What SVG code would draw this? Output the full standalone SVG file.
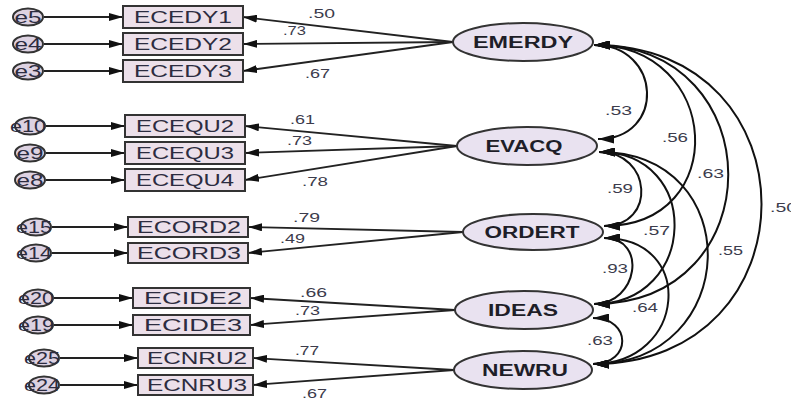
<svg xmlns="http://www.w3.org/2000/svg" width="791" height="401" viewBox="0 0 791 401">
<style>
.bg{fill:#ffffff}
.box{fill:#ece0ea;stroke:#333;stroke-width:2}
.lat{fill:#e9e2f0;stroke:#333;stroke-width:2}
.err{fill:#ddd2e2;stroke:#333;stroke-width:2}
.bt{font-family:"Liberation Sans",Arial,sans-serif;font-size:17px;fill:#2c2c40;text-anchor:middle}
.lt{font-family:"Liberation Sans",Arial,sans-serif;font-size:16px;font-weight:bold;fill:#1e1e28;text-anchor:middle}
.et{font-family:"Liberation Sans",Arial,sans-serif;font-size:17px;fill:#2c2c40;text-anchor:middle}
.nt{font-family:"Liberation Sans",Arial,sans-serif;font-size:13px;fill:#3c3c4c}
.ln{fill:none;stroke:#222;stroke-width:1.8;marker-end:url(#ah)}
.cv{fill:none;stroke:#111;stroke-width:2;marker-start:url(#ah2);marker-end:url(#ah2)}
</style>
<defs>
<marker id="ah" viewBox="0 0 14 8" refX="14" refY="4" markerWidth="14" markerHeight="8" markerUnits="userSpaceOnUse" orient="auto-start-reverse"><path d="M0,0 L14,4 L0,8 z" fill="#111"/></marker>
<marker id="ah2" viewBox="0 0 16 9" refX="16" refY="4.5" markerWidth="16" markerHeight="9" markerUnits="userSpaceOnUse" orient="auto-start-reverse"><path d="M0,0 L16,4.5 L0,9 z" fill="#111"/></marker>
</defs>
<rect class="bg" x="0" y="0" width="791" height="401"/>

<g id="connectors">
<!-- error to indicator -->
<line class="ln" x1="44" y1="17" x2="123" y2="17"/>
<line class="ln" x1="44" y1="44" x2="123" y2="44"/>
<line class="ln" x1="44" y1="71" x2="123" y2="71"/>
<line class="ln" x1="46" y1="126" x2="125" y2="126"/>
<line class="ln" x1="46" y1="153" x2="125" y2="153"/>
<line class="ln" x1="46" y1="180" x2="125" y2="180"/>
<line class="ln" x1="52" y1="227" x2="128" y2="227"/>
<line class="ln" x1="52" y1="253" x2="128" y2="253"/>
<line class="ln" x1="54" y1="298" x2="133" y2="298"/>
<line class="ln" x1="54" y1="325" x2="133" y2="325"/>
<line class="ln" x1="60" y1="358" x2="138" y2="358"/>
<line class="ln" x1="60" y1="385" x2="138" y2="385"/>
<!-- latent to indicator -->
<line class="ln" x1="453" y1="42" x2="243" y2="17"/>
<line class="ln" x1="453" y1="42" x2="243" y2="44"/>
<line class="ln" x1="453" y1="42" x2="243" y2="71"/>
<line class="ln" x1="457" y1="146" x2="245" y2="126"/>
<line class="ln" x1="457" y1="146" x2="245" y2="153"/>
<line class="ln" x1="457" y1="146" x2="245" y2="180"/>
<line class="ln" x1="463" y1="232" x2="248" y2="227"/>
<line class="ln" x1="463" y1="232" x2="248" y2="253"/>
<line class="ln" x1="455" y1="310" x2="250" y2="298"/>
<line class="ln" x1="455" y1="310" x2="250" y2="325"/>
<line class="ln" x1="454" y1="370" x2="253" y2="358"/>
<line class="ln" x1="454" y1="370" x2="253" y2="385"/>
<!-- covariances -->
<path class="cv" d="M594,45 C662,45 666,139 598,139"/>
<path class="cv" d="M594,45 C722,45 732,226 604,226"/>
<path class="cv" d="M594,45 C773,45 773,304 594,304"/>
<path class="cv" d="M594,45 C818,45 817,364 593,364"/>
<path class="cv" d="M599,152 C652,152 657,226 604,226"/>
<path class="cv" d="M599,152 C703,152 698,304 594,304"/>
<path class="cv" d="M599,152 C748,152 742,364 593,364"/>
<path class="cv" d="M604,238 C648,238 638,304 594,304"/>
<path class="cv" d="M604,238 C697,238 686,364 593,364"/>
<path class="cv" d="M593,318 C632,318 632,364 593,364"/>
</g>

<g id="loadings">
<text class="nt" x="308" y="18" textLength="27" lengthAdjust="spacingAndGlyphs">.50</text>
<text class="nt" x="283" y="35" textLength="23" lengthAdjust="spacingAndGlyphs">.73</text>
<text class="nt" x="305" y="78" textLength="25" lengthAdjust="spacingAndGlyphs">.67</text>
<text class="nt" x="290" y="124" textLength="25" lengthAdjust="spacingAndGlyphs">.61</text>
<text class="nt" x="287" y="145" textLength="25" lengthAdjust="spacingAndGlyphs">.73</text>
<text class="nt" x="302" y="186" textLength="26" lengthAdjust="spacingAndGlyphs">.78</text>
<text class="nt" x="293" y="222" textLength="27" lengthAdjust="spacingAndGlyphs">.79</text>
<text class="nt" x="280" y="243" textLength="25" lengthAdjust="spacingAndGlyphs">.49</text>
<text class="nt" x="300" y="297" textLength="27" lengthAdjust="spacingAndGlyphs">.66</text>
<text class="nt" x="295" y="315" textLength="25" lengthAdjust="spacingAndGlyphs">.73</text>
<text class="nt" x="295" y="355" textLength="24" lengthAdjust="spacingAndGlyphs">.77</text>
<text class="nt" x="302" y="398" textLength="25" lengthAdjust="spacingAndGlyphs">.67</text>
<text class="nt" x="605" y="115" textLength="27" lengthAdjust="spacingAndGlyphs">.53</text>
<text class="nt" x="662" y="142" textLength="26" lengthAdjust="spacingAndGlyphs">.56</text>
<text class="nt" x="697" y="178" textLength="27" lengthAdjust="spacingAndGlyphs">.63</text>
<text class="nt" x="770" y="212" textLength="27" lengthAdjust="spacingAndGlyphs">.50</text>
<text class="nt" x="607" y="193" textLength="26" lengthAdjust="spacingAndGlyphs">.59</text>
<text class="nt" x="643" y="235" textLength="27" lengthAdjust="spacingAndGlyphs">.57</text>
<text class="nt" x="718" y="255" textLength="25" lengthAdjust="spacingAndGlyphs">.55</text>
<text class="nt" x="602" y="273" textLength="26" lengthAdjust="spacingAndGlyphs">.93</text>
<text class="nt" x="632" y="312" textLength="26" lengthAdjust="spacingAndGlyphs">.64</text>
<text class="nt" x="587" y="345" textLength="26" lengthAdjust="spacingAndGlyphs">.63</text>
</g>

<g id="e5"><ellipse class="err" cx="28" cy="17" rx="15" ry="8.5"/><text class="et" x="28" y="23" textLength="27" lengthAdjust="spacingAndGlyphs">e5</text></g>
<g id="e4"><ellipse class="err" cx="28" cy="44" rx="15" ry="8.5"/><text class="et" x="28" y="50" textLength="27" lengthAdjust="spacingAndGlyphs">e4</text></g>
<g id="e3"><ellipse class="err" cx="28" cy="71" rx="15" ry="8.5"/><text class="et" x="28" y="77" textLength="27" lengthAdjust="spacingAndGlyphs">e3</text></g>
<g id="e10"><ellipse class="err" cx="30" cy="126" rx="15" ry="8.5"/><text class="et" x="28" y="132" textLength="36" lengthAdjust="spacingAndGlyphs">e10</text></g>
<g id="e9"><ellipse class="err" cx="30" cy="153" rx="15" ry="8.5"/><text class="et" x="30" y="159" textLength="27" lengthAdjust="spacingAndGlyphs">e9</text></g>
<g id="e8"><ellipse class="err" cx="30" cy="180" rx="15" ry="8.5"/><text class="et" x="30" y="186" textLength="27" lengthAdjust="spacingAndGlyphs">e8</text></g>
<g id="e15"><ellipse class="err" cx="36" cy="227" rx="15" ry="8.5"/><text class="et" x="34" y="233" textLength="36" lengthAdjust="spacingAndGlyphs">e15</text></g>
<g id="e14"><ellipse class="err" cx="36" cy="253" rx="15" ry="8.5"/><text class="et" x="34" y="259" textLength="36" lengthAdjust="spacingAndGlyphs">e14</text></g>
<g id="e20"><ellipse class="err" cx="38" cy="298" rx="15" ry="8.5"/><text class="et" x="36" y="304" textLength="36" lengthAdjust="spacingAndGlyphs">e20</text></g>
<g id="e19"><ellipse class="err" cx="38" cy="325" rx="15" ry="8.5"/><text class="et" x="36" y="331" textLength="36" lengthAdjust="spacingAndGlyphs">e19</text></g>
<g id="e25"><ellipse class="err" cx="44" cy="358" rx="15" ry="8.5"/><text class="et" x="42" y="364" textLength="36" lengthAdjust="spacingAndGlyphs">e25</text></g>
<g id="e24"><ellipse class="err" cx="44" cy="385" rx="15" ry="8.5"/><text class="et" x="42" y="391" textLength="36" lengthAdjust="spacingAndGlyphs">e24</text></g>

<g id="ECEDY1"><rect class="box" x="123" y="6" width="120" height="22"/><text class="bt" x="183" y="23" textLength="98" lengthAdjust="spacingAndGlyphs">ECEDY1</text></g>
<g id="ECEDY2"><rect class="box" x="123" y="33" width="120" height="22"/><text class="bt" x="183" y="50" textLength="98" lengthAdjust="spacingAndGlyphs">ECEDY2</text></g>
<g id="ECEDY3"><rect class="box" x="123" y="60" width="120" height="22"/><text class="bt" x="183" y="77" textLength="98" lengthAdjust="spacingAndGlyphs">ECEDY3</text></g>
<g id="ECEQU2"><rect class="box" x="125" y="115" width="120" height="22"/><text class="bt" x="185" y="132" textLength="98" lengthAdjust="spacingAndGlyphs">ECEQU2</text></g>
<g id="ECEQU3"><rect class="box" x="125" y="142" width="120" height="22"/><text class="bt" x="185" y="159" textLength="98" lengthAdjust="spacingAndGlyphs">ECEQU3</text></g>
<g id="ECEQU4"><rect class="box" x="125" y="169" width="120" height="22"/><text class="bt" x="185" y="186" textLength="98" lengthAdjust="spacingAndGlyphs">ECEQU4</text></g>
<g id="ECORD2"><rect class="box" x="128" y="217" width="120" height="20"/><text class="bt" x="189" y="233" textLength="104" lengthAdjust="spacingAndGlyphs">ECORD2</text></g>
<g id="ECORD3"><rect class="box" x="128" y="243" width="120" height="20"/><text class="bt" x="189" y="259" textLength="104" lengthAdjust="spacingAndGlyphs">ECORD3</text></g>
<g id="ECIDE2"><rect class="box" x="133" y="288" width="117" height="20"/><text class="bt" x="193" y="304" textLength="98" lengthAdjust="spacingAndGlyphs">ECIDE2</text></g>
<g id="ECIDE3"><rect class="box" x="133" y="315" width="117" height="20"/><text class="bt" x="193" y="331" textLength="98" lengthAdjust="spacingAndGlyphs">ECIDE3</text></g>
<g id="ECNRU2"><rect class="box" x="138" y="348" width="115" height="20"/><text class="bt" x="197" y="364" textLength="100" lengthAdjust="spacingAndGlyphs">ECNRU2</text></g>
<g id="ECNRU3"><rect class="box" x="138" y="375" width="115" height="20"/><text class="bt" x="197" y="391" textLength="100" lengthAdjust="spacingAndGlyphs">ECNRU3</text></g>

<g id="EMERDY"><ellipse class="lat" cx="523" cy="42" rx="70" ry="19"/><text class="lt" x="523" y="48" textLength="100" lengthAdjust="spacingAndGlyphs">EMERDY</text></g>
<g id="EVACQ"><ellipse class="lat" cx="527" cy="146" rx="70" ry="19"/><text class="lt" x="524" y="152" textLength="77" lengthAdjust="spacingAndGlyphs">EVACQ</text></g>
<g id="ORDERT"><ellipse class="lat" cx="533" cy="232" rx="70" ry="18"/><text class="lt" x="532" y="238" textLength="95" lengthAdjust="spacingAndGlyphs">ORDERT</text></g>
<g id="IDEAS"><ellipse class="lat" cx="524" cy="310" rx="69" ry="19"/><text class="lt" x="523" y="316" textLength="70" lengthAdjust="spacingAndGlyphs">IDEAS</text></g>
<g id="NEWRU"><ellipse class="lat" cx="523" cy="370" rx="69" ry="19"/><text class="lt" x="525" y="376" textLength="86" lengthAdjust="spacingAndGlyphs">NEWRU</text></g>
</svg>
